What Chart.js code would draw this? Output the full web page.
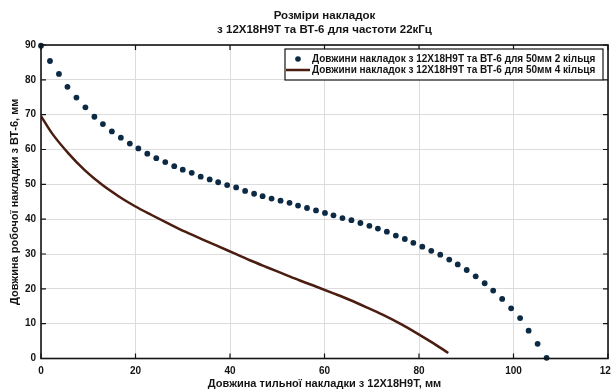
<!DOCTYPE html>
<html>
<head>
<meta charset="utf-8">
<script src="https://cdn.jsdelivr.net/npm/chart.js@4.4.1/dist/chart.umd.min.js"></script>
<style>
  html, body { margin: 0; padding: 0; background: #ffffff; }
  #wrap { width: 611px; height: 392px; }
</style>
</head>
<body>
<div id="wrap"><canvas id="c" width="611" height="392"></canvas></div>
<script>
// Text
const titleLines = ['Розміри накладок', 'з 12Х18Н9Т та ВТ-6 для частоти 22кГц'];
const xAxisTitle = 'Довжина тильної накладки з 12Х18Н9Т, мм';
const yAxisTitle = 'Довжина робочої накладки з ВТ-6, мм';
const seriesNames = [
  'Довжини накладок з 12Х18Н9Т та ВТ-6 для 50мм 2 кільця',
  'Довжини накладок з 12Х18Н9Т та ВТ-6 для 50мм 4 кільця'
];

// Axis ticks
const xTicks = [0, 20, 40, 60, 80, 100, 120];
const yTicks = [0, 10, 20, 30, 40, 50, 60, 70, 80, 90];

// 2 rings: back plate length (x) vs working plate length (y), mm
const ring2X = [0, 1.9, 3.8, 5.6, 7.5, 9.4, 11.3, 13.1, 15.0, 16.9, 18.8, 20.6, 22.5, 24.4, 26.3,
  28.2, 30.0, 31.9, 33.8, 35.7, 37.5, 39.4, 41.3, 43.2, 45.1, 46.9, 48.8, 50.7, 52.6, 54.4,
  56.3, 58.2, 60.1, 61.9, 63.8, 65.7, 67.6, 69.5, 71.3, 73.2, 75.1, 77.0, 78.8, 80.7, 82.6,
  84.5, 86.4, 88.2, 90.1, 92.0, 93.9, 95.7, 97.6, 99.5, 101.4, 103.2, 105.1, 107.0];
const ring2Y = [89.8, 85.4, 81.7, 78.0, 74.9, 72.1, 69.4, 67.3, 65.2, 63.4, 61.7, 60.3, 58.8, 57.5, 56.4,
  55.2, 54.2, 53.3, 52.2, 51.4, 50.6, 49.8, 49.1, 48.1, 47.3, 46.6, 45.9, 45.3, 44.7, 43.9,
  43.2, 42.5, 41.8, 41.1, 40.3, 39.7, 38.9, 38.1, 37.3, 36.4, 35.3, 34.3, 33.2, 32.1, 30.9,
  29.8, 28.4, 27.0, 25.4, 23.6, 21.6, 19.5, 17.1, 14.4, 11.6, 8.0, 4.2, 0.2];

// 4 rings
const ring4X = [0, 2.3, 5.8, 9.3, 12.8, 16.4, 19.9, 23.4, 26.9, 30.5, 34.0, 37.2, 40.7, 44.2, 47.8,
  51.3, 54.8, 58.3, 61.9, 65.4, 68.9, 72.4, 76.0, 79.5, 83.0, 86.2];
const ring4Y = [69.6, 64.7, 58.9, 54.0, 50.0, 46.6, 43.7, 41.2, 38.8, 36.4, 34.3, 32.4, 30.3, 28.2, 26.2,
  24.3, 22.4, 20.6, 18.7, 16.8, 14.7, 12.5, 10.0, 7.3, 4.4, 1.6];

const FONT = "'Liberation Sans', Arial, sans-serif";
const INK = '#141414';
const DOT = '#0d2a45';
const LINE = '#4b1d10';

const toPoints = (xs, ys) => xs.map((x, i) => ({ x: x, y: ys[i] }));

// Frame, inward ticks, titles and legend
const decorations = {
  id: 'decorations',
  afterDraw(chart) {
    const ctx = chart.ctx;
    const a = chart.chartArea;
    const xs = chart.scales.x, ys = chart.scales.y;
    ctx.save();

    // inward tick marks on all four sides
    ctx.strokeStyle = INK;
    ctx.lineWidth = 1.2;
    const tl = 5;
    xTicks.forEach(v => {
      const px = xs.getPixelForValue(v);
      ctx.beginPath();
      ctx.moveTo(px, a.bottom); ctx.lineTo(px, a.bottom - tl);
      ctx.moveTo(px, a.top); ctx.lineTo(px, a.top + tl);
      ctx.stroke();
    });
    yTicks.forEach(v => {
      const py = ys.getPixelForValue(v);
      ctx.beginPath();
      ctx.moveTo(a.left, py); ctx.lineTo(a.left + tl, py);
      ctx.moveTo(a.right, py); ctx.lineTo(a.right - tl, py);
      ctx.stroke();
    });

    // frame
    ctx.lineWidth = 1.6;
    ctx.strokeRect(a.left, a.top, a.right - a.left, a.bottom - a.top);

    // title
    ctx.fillStyle = INK;
    ctx.textAlign = 'center';
    ctx.textBaseline = 'middle';
    ctx.font = 'bold 11.5px ' + FONT;
    const cx = (a.left + a.right) / 2;
    ctx.fillText(titleLines[0], cx, 16);
    ctx.fillText(titleLines[1], cx, 30);

    // axis titles
    ctx.font = 'bold 11px ' + FONT;
    ctx.fillText(xAxisTitle, cx, 384);
    ctx.save();
    ctx.translate(15, (a.top + a.bottom) / 2);
    ctx.rotate(-Math.PI / 2);
    ctx.fillText(yAxisTitle, 0, 0);
    ctx.restore();

    // legend
    const lx = 285, ly = 49, lw = 318, lh = 31;
    ctx.fillStyle = '#ffffff';
    ctx.fillRect(lx, ly, lw, lh);
    ctx.strokeStyle = INK;
    ctx.lineWidth = 1.2;
    ctx.strokeRect(lx, ly, lw, lh);
    const ds = chart.data.datasets;
    const row1 = ly + 10, row2 = ly + 21;
    ctx.fillStyle = ds[0].pointBackgroundColor;
    ctx.beginPath();
    ctx.arc(lx + 13, row1, 2.8, 0, Math.PI * 2);
    ctx.fill();
    ctx.strokeStyle = ds[1].borderColor;
    ctx.lineWidth = 2.5;
    ctx.beginPath();
    ctx.moveTo(lx + 1, row2); ctx.lineTo(lx + 25, row2);
    ctx.stroke();
    ctx.fillStyle = INK;
    ctx.textAlign = 'left';
    ctx.font = 'bold 10px ' + FONT;
    ctx.fillText(ds[0].label, lx + 27, row1);
    ctx.fillText(ds[1].label, lx + 27, row2);

    ctx.restore();
  }
};

new Chart(document.getElementById('c'), {
  type: 'scatter',
  data: {
    datasets: [
      {
        label: seriesNames[0],
        data: toPoints(ring2X, ring2Y),
        showLine: false,
        clip: 6,
        pointRadius: 2.9,
        pointHoverRadius: 2.9,
        pointBorderWidth: 0,
        pointBackgroundColor: DOT,
        borderColor: DOT
      },
      {
        label: seriesNames[1],
        data: toPoints(ring4X, ring4Y),
        showLine: true,
        pointRadius: 0,
        borderColor: LINE,
        backgroundColor: LINE,
        borderWidth: 2.5,
        cubicInterpolationMode: 'monotone'
      }
    ]
  },
  options: {
    responsive: false,
    animation: false,
    devicePixelRatio: 1,
    layout: { padding: { top: 45, right: 3, left: 0, bottom: 0 } },
    plugins: { legend: { display: false }, title: { display: false }, tooltip: { enabled: false } },
    scales: {
      x: {
        type: 'linear',
        min: 0, max: 120,
        afterBuildTicks: s => { s.ticks = xTicks.map(v => ({ value: v })); },
        afterFit: s => { s.height = 33.5; s.paddingLeft = 0; s.paddingRight = 0; },
        grid: { color: '#dcdcdc', lineWidth: 1, drawTicks: false },
        border: { display: false },
        ticks: { color: INK, padding: 7, maxRotation: 0, font: { family: FONT, size: 10, weight: 'bold' } }
      },
      y: {
        type: 'linear',
        min: 0, max: 90,
        afterBuildTicks: s => { s.ticks = yTicks.map(v => ({ value: v })); },
        afterFit: s => { s.width = 41; s.paddingTop = 0; s.paddingBottom = 0; },
        grid: { color: '#dcdcdc', lineWidth: 1, drawTicks: false },
        border: { display: false },
        ticks: { color: INK, padding: 5, font: { family: FONT, size: 10, weight: 'bold' } }
      }
    }
  },
  plugins: [decorations]
});
</script>
</body>
</html>
